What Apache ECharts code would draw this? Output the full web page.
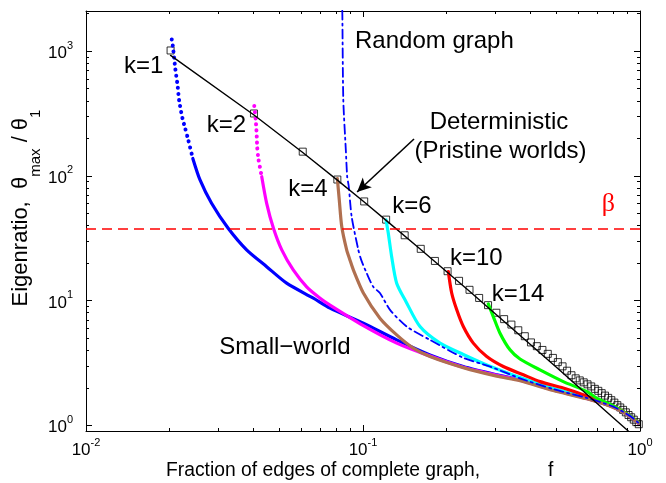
<!DOCTYPE html>
<html><head><meta charset="utf-8">
<script src="https://cdn.jsdelivr.net/npm/echarts@6/dist/echarts.min.js"></script>
<style>html,body{margin:0;padding:0;background:#fff}#c{width:666px;height:483px}</style>
</head><body><div id="c"></div>
<script>
// ---- data ----
const detF = [0.0202,0.0404,0.0606,0.0808,0.1010,0.1212,0.1414,0.1616,0.1818,0.2020,0.2222,0.2424,0.2626,0.2828,0.3030,0.3232,0.3434,0.3636,0.3838,0.4040,0.4242,0.4444,0.4646,0.4848,0.5051,0.5253,0.5455,0.5657,0.5859,0.6061,0.6263,0.6465,0.6667,0.6869,0.7071,0.7273,0.7475,0.7677,0.7879,0.8081,0.8283,0.8485,0.8687,0.8889,0.9091,0.9293,0.9495,0.9697,0.9899];
const detRatio = [1013,316.6,156.4,93.5,62.4,44.6,33.4,26.0,20.8,17.2,14.4,12.2,10.5,9.19,7.99,7.10,6.42,5.78,5.18,4.62,4.31,4.02,3.74,3.47,3.21,2.97,2.74,2.52,2.38,2.29,2.21,2.13,2.05,1.96,1.89,1.81,1.73,1.66,1.59,1.52,1.45,1.39,1.33,1.27,1.21,1.16,1.11,1.06,1.02];
const lineF = [0.0202,0.0404,0.0606,0.0808,0.1010,0.1212,0.1616,0.2020,0.2424,0.2828,0.3232,0.4040,0.5050,0.6060,0.7070,0.8080,0.9090,0.9500];
const lineY = [925,308,154,92.5,61.7,44.0,25.7,16.8,11.9,8.81,6.80,4.40,2.85,1.99,1.47,1.13,0.895,0.82];

const k1DotF = [0.0204,0.0206,0.0210,0.0214,0.0217,0.0223,0.0228,0.0234,0.0243];
const k1DotY = [1243,1084,728,535,400,289,241,194,138];
const k1F = [0.0243,0.0258,0.0284,0.0326,0.0380,0.0449,0.0530,0.0662,0.0760,0.1003,0.1323,0.1745,0.2302,0.3039,0.3688,0.4864,0.6421,0.801,0.920,0.986];
const k1Y = [138,92.7,60.3,38.0,25.5,18.7,13.8,10.45,8.70,6.59,4.84,3.67,2.96,2.54,2.32,1.93,1.65,1.40,1.18,1.04];

const k2DotF = [0.0405,0.0410,0.0413,0.0415,0.0419,0.0431];
const k2DotY = [363,280,219,171,138,98.5];
const k2F = [0.0431,0.0449,0.0475,0.0509,0.0560,0.0626,0.0700,0.0760,0.1003,0.1323,0.1698,0.2302,0.3039,0.3688,0.4864,0.6421,0.801,0.920,0.986];
const k2Y = [98.5,60.3,38.0,25.5,17.6,12.9,10.45,9.2,6.3,4.56,3.67,2.92,2.52,2.30,1.92,1.64,1.40,1.18,1.04];

const k4F = [0.0808,0.0821,0.0838,0.0873,0.0897,0.0923,0.1003,0.1151,0.1323,0.1519,0.1745,0.2302,0.3039,0.3688,0.4864,0.6421,0.801,0.920,0.986];
const k4Y = [95,64.1,39.2,25.5,21.2,17.6,11.5,7.23,5.31,4.16,3.56,2.90,2.48,2.28,1.90,1.63,1.39,1.18,1.04];

const k6F = [0.1211,0.1234,0.1269,0.1323,0.1430,0.1606,0.1897,0.2302,0.2797,0.3688,0.4864,0.6421,0.801,0.920,0.986];
const k6Y = [44.3,34.7,22.5,13.8,9.8,6.19,4.56,3.70,3.05,2.42,1.97,1.67,1.41,1.19,1.05];

const k10F = [0.2032,0.2090,0.2180,0.2302,0.2501,0.2797,0.3210,0.3791,0.4355,0.5285,0.6421,0.801,0.920,0.986];
const k10Y = [17.1,11.5,8.43,6.19,4.56,3.56,2.96,2.54,2.24,1.99,1.72,1.42,1.19,1.05];

const k14F = [0.2833,0.2954,0.3123,0.3394,0.3688,0.4355,0.5285,0.6421,0.6979,0.801,0.920,0.986];
const k14Y = [9.41,7.44,5.48,4.03,3.40,2.78,2.24,1.87,1.65,1.43,1.19,1.05];

const randF = [0.0838,0.0842,0.0849,0.0867,0.0877,0.0888,0.0910,0.0962,0.0985,0.1031,0.1089,0.1151,0.1252,0.1438,0.1745,0.2302,0.2873,0.3688,0.4864,0.6421,0.801,0.920,0.986];
const randY = [3000,2060,406,161,98,83,47.1,25.5,21.2,16.6,12.9,11.5,8.43,6.19,4.84,3.48,2.96,2.38,1.95,1.66,1.41,1.19,1.05];

const beta = 37.8;
const arrowFrom = [0.1528,197.6];
const arrowTo = [0.0952,74.3];

const xMajorTicks = [0.01,0.1,1];
const xMinorTicks = [0.02,0.03,0.04,0.05,0.06,0.07,0.08,0.09,0.2,0.3,0.4,0.5,0.6,0.7,0.8,0.9];
const yMajorTicks = [1,10,100,1000];
const yMinorTicks = [2,3,4,5,6,7,8,9,20,30,40,50,60,70,80,90,200,300,400,500,600,700,800,900,2000];

// ---- helpers ----
const FONT = "'Liberation Sans', Arial, Helvetica, sans-serif";
const zip = (a,b) => a.map((v,i)=>[v,b[i]]);
function powLabel(v){
  const e = Math.round(Math.log10(v));
  return '{b|10}{s|' + e + '}';
}
const powRich = {
  b:{fontSize:17, fontFamily:FONT, color:'#000', lineHeight:22, verticalAlign:'bottom'},
  s:{fontSize:11, fontFamily:FONT, color:'#000', lineHeight:11, verticalAlign:'top'}
};
function xAx(pos, major, showLine, showLabel){
  return {type:'log', logBase:10, min:0.01, max:1, position:pos, gridIndex:0,
    axisLine:{show:showLine, onZero:false, lineStyle:{color:'#000', width:1}},
    axisTick:{show:true, inside:true, length: major?6:3, customValues: major?xMajorTicks:xMinorTicks, lineStyle:{color:'#000', width:1}},
    axisLabel:{show:showLabel, customValues:xMajorTicks, formatter:powLabel, rich:powRich, margin:6},
    splitLine:{show:false}, minorTick:{show:false}, axisPointer:{show:false}};
}
function yAx(pos, major, showLine, showLabel){
  return {type:'log', logBase:10, min:0.9, max:2100, position:pos, gridIndex:0,
    axisLine:{show:showLine, onZero:false, lineStyle:{color:'#000', width:1}},
    axisTick:{show:true, inside:true, length: major?6:3, customValues: major?yMajorTicks:yMinorTicks, lineStyle:{color:'#000', width:1}},
    axisLabel:{show:showLabel, customValues:yMajorTicks, formatter:powLabel, rich:powRich, margin:13},
    splitLine:{show:false}, minorTick:{show:false}, axisPointer:{show:false}};
}
function curve(data, color, width, type){
  return {type:'line', xAxisIndex:0, yAxisIndex:0, data:data, showSymbol:false, symbol:'none',
    smooth:0.25,
    silent:true, lineStyle:{color:color, width:width, type:type||'solid', cap:'round', join:'round'}};
}
function txt(x, y, text, size, color, family, align){
  return {type:'text', x:x, y:y, z:100, style:{text:text, fontSize:size, fontFamily:family||FONT, fill:color||'#000', verticalAlign:'middle', align:align||'left'}};
}

const BLUE='#0000ff', MAG='#ff00ff', BROWN='#b07050', CYAN='#00ffff', RED='#ff0000', GREEN='#00ff00';
const DOTS=[0.1,6];

const option = {
  animation:false,
  backgroundColor:'#fff',
  grid:{left:86, top:11, width:554, height:420, containLabel:false},
  xAxis:[xAx('bottom',true,true,true), xAx('bottom',false,false,false), xAx('top',true,true,false), xAx('top',false,false,false)],
  yAxis:[yAx('left',true,true,true), yAx('left',false,false,false), yAx('right',true,true,false), yAx('right',false,false,false)],
  series:[
    curve(zip(k1DotF,k1DotY), BLUE, 4, DOTS),
    curve(zip(k1F,k1Y), BLUE, 3.2),
    curve(zip(k2DotF,k2DotY), MAG, 4, DOTS),
    curve(zip(k2F,k2Y), MAG, 3.2),
    curve(zip(k6F,k6Y), CYAN, 3.2),
    curve(zip(k10F,k10Y), RED, 3.2),
    curve(zip(k14F,k14Y), GREEN, 3.2),
    curve(zip(k4F,k4Y), BROWN, 3.2),
    curve(zip(randF,randY), BLUE, 1.8, [9,4,2,4]),
    Object.assign(curve(zip(lineF,lineY), '#000', 1.4), {
      smooth:false,
      markLine:{silent:true, symbol:'none', label:{show:false}, animation:false,
        lineStyle:{color:'#ff0000', type:[10,6], width:1.5}, data:[{yAxis:beta}]}
    }),
    {type:'scatter', xAxisIndex:0, yAxisIndex:0, data:zip(detF,detRatio), symbol:'rect', symbolSize:7, silent:true,
      itemStyle:{color:'rgba(0,0,0,0)', borderColor:'#000', borderWidth:1},
      markLine:{silent:true, symbol:['none','arrow'], symbolSize:[10,14], label:{show:false}, animation:false,
        lineStyle:{color:'#000', type:'solid', width:1.6},
        data:[[{coord:arrowFrom},{coord:arrowTo}]]}}
  ],
  graphic:[
    txt(124, 66.6, 'k=1', 24),
    txt(206.7, 125.6, 'k=2', 24),
    txt(288.3, 189.6, 'k=4', 24),
    txt(392.3, 205.9, 'k=6', 24),
    txt(450, 258.3, 'k=10', 24),
    txt(491.7, 293.9, 'k=14', 24),
    txt(355, 41.6, 'Random graph', 24),
    txt(499, 122.3, 'Deterministic', 24, '#000', FONT, 'center'),
    txt(500.5, 150.9, '(Pristine worlds)', 24, '#000', FONT, 'center'),
    txt(219.3, 347.6, 'Small\u2212world', 24),
    txt(601.7, 204, '\u03b2', 26, '#ff0000', "'Liberation Serif','Times New Roman',serif"),
    {type:'text', x:26.5, y:208, rotation:Math.PI/2, z:100,
      style:{text:'{n|Eigenratio,  \u03b8}{sub|max}{n| / \u03b8}{sub|1}', align:'center', verticalAlign:'middle',
        rich:{n:{fontSize:22, fontFamily:FONT, color:'#000', lineHeight:33, verticalAlign:'top'},
              sub:{fontSize:15, fontFamily:FONT, color:'#000', lineHeight:15, verticalAlign:'bottom'}}}},
    txt(166, 471, 'Fraction of edges of complete graph,', 19.3),
    txt(548, 471, 'f', 19.3)
  ]
};
const chart = echarts.init(document.getElementById('c'), null, {renderer:'canvas'});
chart.setOption(option);
</script></body></html>
